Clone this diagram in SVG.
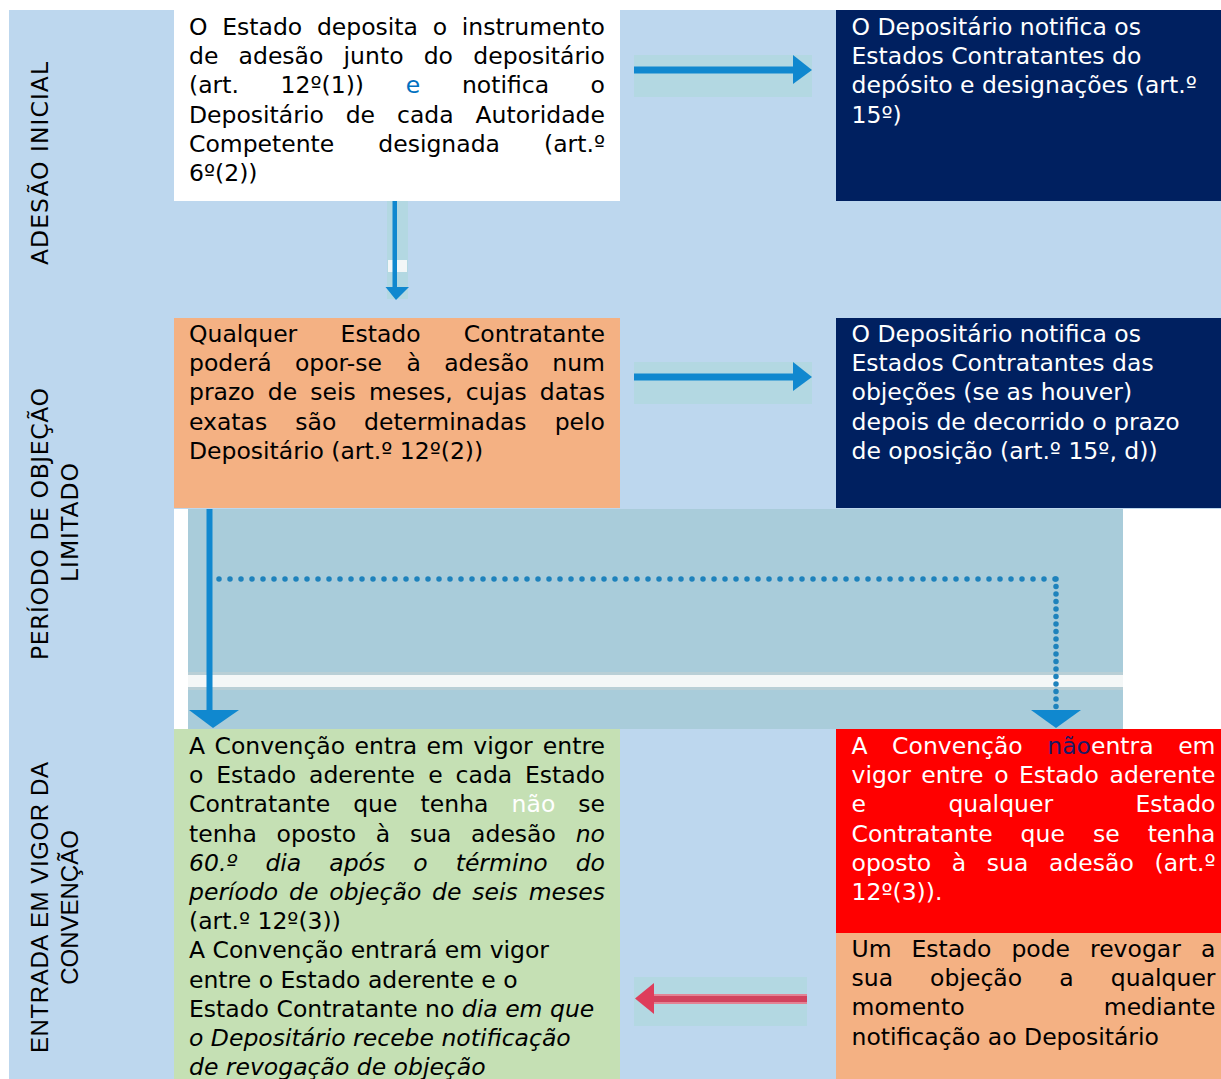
<svg xmlns="http://www.w3.org/2000/svg" width="1221" height="1079" viewBox="0 0 1221 1079">
<style>
.t{font-family:"DejaVu Sans",Verdana,sans-serif;font-size:23.5px;fill:#000}
.w{fill:#fff}
.i{font-style:italic}
.e{text-anchor:end}
.lab{font-family:"DejaVu Sans",Verdana,sans-serif;font-size:23.5px;fill:#000;text-anchor:middle}
.lab2{font-family:"Liberation Sans",Arial,sans-serif;font-size:24px;fill:#000;text-anchor:middle}
.patch{fill:#B3D8E2}
.blue{fill:#1088CF}
</style>
<rect x="0" y="0" width="1221" height="1079" fill="#fff"/>
<rect x="9" y="10" width="1212" height="1069" fill="#BDD7EE"/>

<g id="lab1"><text class="lab" transform="translate(48,163.5) rotate(-90)" textLength="203" lengthAdjust="spacing">ADESÃO INICIAL</text></g>
<g id="lab2">
<text class="lab" transform="translate(48,524) rotate(-90)" textLength="272" lengthAdjust="spacing">PERÍODO DE OBJEÇÃO</text>
<text class="lab" transform="translate(78,522.5) rotate(-90)" textLength="119" lengthAdjust="spacing">LIMITADO</text>
</g>
<g id="lab3">
<text class="lab2" transform="translate(48,907.5) rotate(-90)" textLength="291" lengthAdjust="spacing">ENTRADA EM VIGOR DA</text>
<text class="lab2" transform="translate(78,907.5) rotate(-90)">CONVENÇÃO</text>
</g>

<g id="band">
<rect x="174" y="509" width="1047" height="220" fill="#fff"/>
<rect x="188" y="509" width="935" height="220" fill="#A9CCDA"/>
<rect x="188" y="672" width="935" height="3" fill="#B9CFD6"/>
<rect x="188" y="675" width="935" height="12" fill="#F4F7F7"/>
<rect x="188" y="687" width="935" height="3" fill="#B9CFD6"/>
</g>

<g id="n1">
<rect x="174" y="10" width="446" height="191" fill="#fff"/>
<text class="t" y="35"><tspan x="189">O</tspan><tspan x="222.2">Estado</tspan><tspan x="316.9">deposita</tspan><tspan x="432.7">o</tspan></text><text class="t e" x="605" y="35">instrumento</text>
<text class="t" y="64.2"><tspan x="189">de</tspan><tspan x="238.6">adesão</tspan><tspan x="343.6">junto</tspan><tspan x="423.7">do</tspan></text><text class="t e" x="605" y="64.2">depositário</text>
<text class="t" y="93.4"><tspan x="189">(art.</tspan><tspan x="280.6">12º(1))</tspan><tspan x="405.7" fill="#0070C0">e</tspan><tspan x="461.9">notifica</tspan></text><text class="t e" x="605" y="93.4">o</text>
<text class="t" y="122.6"><tspan x="189">Depositário</tspan><tspan x="345.7">de</tspan><tspan x="397">cada</tspan></text><text class="t e" x="605" y="122.6">Autoridade</text>
<text class="t" y="151.8"><tspan x="189">Competente</tspan><tspan x="378.3">designada</tspan></text><text class="t e" x="605" y="151.8">(art.º</text>
<text class="t" x="189" y="181">6º(2))</text>
</g>

<g id="n2">
<rect x="836" y="10" width="385" height="191" fill="#002060"/>
<text class="t w" x="851.5" y="35">O Depositário notifica os</text>
<text class="t w" x="851.5" y="64.2">Estados Contratantes do</text>
<text class="t w" x="851.5" y="93.4">depósito e designações (art.º</text>
<text class="t w" x="851.5" y="122.6">15º)</text>
</g>

<g id="n3">
<rect x="174" y="318" width="446" height="190" fill="#F4B183"/>
<text class="t" y="342"><tspan x="189">Qualquer</tspan><tspan x="340.6">Estado</tspan></text><text class="t e" x="605" y="342">Contratante</text>
<text class="t" y="371.2"><tspan x="189">poderá</tspan><tspan x="294.9">opor-se</tspan><tspan x="406.6">à</tspan><tspan x="444.2">adesão</tspan></text><text class="t e" x="605" y="371.2">num</text>
<text class="t" y="400.4"><tspan x="189">prazo</tspan><tspan x="267.8">de</tspan><tspan x="310.3">seis</tspan><tspan x="368.9">meses,</tspan><tspan x="465.8">cujas</tspan></text><text class="t e" x="605" y="400.4">datas</text>
<text class="t" y="429.6"><tspan x="189">exatas</tspan><tspan x="295.3">são</tspan><tspan x="364">determinadas</tspan></text><text class="t e" x="605" y="429.6">pelo</text>
<text class="t" x="189" y="458.8">Depositário (art.º 12º(2))</text>
</g>

<g id="n4">
<rect x="836" y="318" width="385" height="190" fill="#002060"/>
<text class="t w" x="851.5" y="342">O Depositário notifica os</text>
<text class="t w" x="851.5" y="371.2">Estados Contratantes das</text>
<text class="t w" x="851.5" y="400.4">objeções (se as houver)</text>
<text class="t w" x="851.5" y="429.6">depois de decorrido o prazo</text>
<text class="t w" x="851.5" y="458.8">de oposição (art.º 15º, d))</text>
</g>

<g id="n5">
<rect x="174" y="729" width="446" height="350" fill="#C5E0B4"/>
<text class="t" y="754"><tspan x="189">A</tspan><tspan x="214.5">Convenção</tspan><tspan x="354.6">entra</tspan><tspan x="426.6">em</tspan><tspan x="473.3">vigor</tspan></text><text class="t e" x="605" y="754">entre</text>
<text class="t" y="783.2"><tspan x="189">o</tspan><tspan x="216.2">Estado</tspan><tspan x="309">aderente</tspan><tspan x="428.3">e</tspan><tspan x="455.6">cada</tspan></text><text class="t e" x="605" y="783.2">Estado</text>
<text class="t" y="812.4"><tspan x="189">Contratante</tspan><tspan x="353.2">que</tspan><tspan x="420.6">tenha</tspan><tspan x="511.6" fill="#fff">não</tspan></text><text class="t e" x="605" y="812.4">se</text>
<text class="t" y="841.6"><tspan x="189">tenha</tspan><tspan x="276.6">oposto</tspan><tspan x="375.8">à</tspan><tspan x="409.9">sua</tspan><tspan x="471.1">adesão</tspan></text><text class="t e i" x="605" y="841.6">no</text>
<text class="t i" y="870.8"><tspan x="189">60.º</tspan><tspan x="265.4">dia</tspan><tspan x="329.3">após</tspan><tspan x="413.3">o</tspan><tspan x="455.7">término</tspan></text><text class="t e i" x="605" y="870.8">do</text>
<text class="t i" y="900"><tspan x="189">período</tspan><tspan x="289.1">de</tspan><tspan x="329.3">objeção</tspan><tspan x="432.1">de</tspan><tspan x="472.3">seis</tspan></text><text class="t e i" x="605" y="900">meses</text>
<text class="t" x="189" y="929.2">(art.º 12º(3))</text>
<text class="t" x="189" y="958.4">A Convenção entrará em vigor</text>
<text class="t" x="189" y="987.6">entre o Estado aderente e o</text>
<text class="t" x="189" y="1016.8">Estado Contratante no <tspan class="i">dia em que</tspan></text>
<text class="t i" x="189" y="1046">o Depositário recebe notificação</text>
<text class="t i" x="189" y="1075.2">de revogação de objeção</text>
</g>

<g id="n6">
<rect x="836" y="729" width="385" height="204" fill="#FF0000"/>
<text class="t w" y="754"><tspan x="851.5">A</tspan><tspan x="892.1">Convenção</tspan><tspan x="1047.3"><tspan fill="#1A1A66">não</tspan>entra</tspan></text><text class="t w e" x="1215.5" y="754">em</text>
<text class="t w" y="783.2"><tspan x="851.5">vigor</tspan><tspan x="921.2">entre</tspan><tspan x="994.2">o</tspan><tspan x="1018.9">Estado</tspan></text><text class="t w e" x="1215.5" y="783.2">aderente</text>
<text class="t w" y="812.4"><tspan x="851.5">e</tspan><tspan x="948.4">qualquer</tspan></text><text class="t w e" x="1215.5" y="812.4">Estado</text>
<text class="t w" y="841.6"><tspan x="851.5">Contratante</tspan><tspan x="1020.6">que</tspan><tspan x="1092.9">se</tspan></text><text class="t w e" x="1215.5" y="841.6">tenha</text>
<text class="t w" y="870.8"><tspan x="851.5">oposto</tspan><tspan x="951.7">à</tspan><tspan x="986.8">sua</tspan><tspan x="1049">adesão</tspan></text><text class="t w e" x="1215.5" y="870.8">(art.º</text>
<text class="t w" x="851.5" y="900">12º(3)).</text>
</g>

<g id="n7">
<rect x="836" y="933" width="385" height="146" fill="#F4B183"/>
<text class="t" y="957"><tspan x="851.5">Um</tspan><tspan x="911.5">Estado</tspan><tspan x="1011.4">pode</tspan><tspan x="1090">revogar</tspan></text><text class="t e" x="1215.5" y="957">a</text>
<text class="t" y="986.2"><tspan x="851.5">sua</tspan><tspan x="930.1">objeção</tspan><tspan x="1059.2">a</tspan></text><text class="t e" x="1215.5" y="986.2">qualquer</text>
<text class="t" x="851.5" y="1015.4">momento</text><text class="t e" x="1215.5" y="1015.4">mediante</text>
<text class="t" x="851.5" y="1044.6">notificação ao Depositário</text>
</g>

<g id="connectors">
<g id="c1">
<rect class="patch" x="634" y="55" width="178" height="42"/>
<rect class="blue" x="634" y="66.5" width="162" height="7"/>
<polygon class="blue" points="793,55 812,70 793,84"/>
</g>
<g id="c2">
<rect class="patch" x="634" y="362" width="178" height="42"/>
<rect class="blue" x="634" y="373.5" width="162" height="7"/>
<polygon class="blue" points="793,362 812,377 793,391"/>
</g>
<g id="c3">
<rect class="patch" x="387" y="201" width="21" height="98"/>
<rect x="388" y="260" width="19" height="12" fill="#F2F6F7"/>
<rect class="blue" x="392.5" y="201" width="4.5" height="88"/>
<polygon class="blue" points="385.5,287 409,287 396,300"/>
</g>
<g id="c4">
<rect class="patch" x="634" y="977" width="173" height="49"/>
<rect x="650" y="994" width="157" height="10" fill="#E38294"/>
<rect x="650" y="996" width="157" height="6" fill="#D2435E"/>
<polygon points="635,998.5 654,983 654,1014" fill="#DE3D5B"/>
</g>
<g id="c5">
<rect class="blue" x="206.5" y="509" width="6" height="203"/>
<polygon class="blue" points="189,710 239,710 213,728"/>
</g>
<g id="c6">
<path d="M219,579 H1056" fill="none" stroke="#1E82BC" stroke-width="5.5" stroke-linecap="round" stroke-dasharray="0 11"/>
<path d="M1056,579 V711" fill="none" stroke="#1E82BC" stroke-width="5.5" stroke-linecap="round" stroke-dasharray="0 7.5"/>
<polygon class="blue" points="1031,710 1081,710 1056,728"/>
</g>
</g>
</svg>
